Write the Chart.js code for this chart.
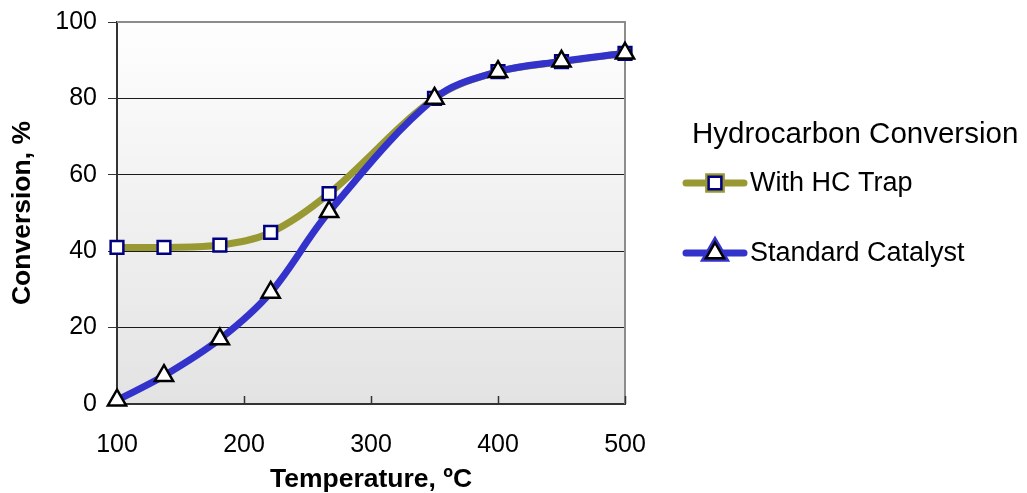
<!DOCTYPE html>
<html>
<head>
<meta charset="utf-8">
<script src="https://cdn.jsdelivr.net/npm/chart.js@4"></script>
<style>
  html, body { margin: 0; padding: 0; background: #fff; }
  #wrap { width: 1027px; height: 493px; }
</style>
</head>
<body>
<div id="wrap"><canvas id="conv"></canvas></div>
<script>
// data
var temps = [100, 137, 181, 221, 267, 350, 400, 450, 500];
var hcTrap = [41.0, 41.0, 41.6, 44.9, 55.1, 80.0, 87.0, 89.6, 91.8];
var standard = [1.0, 7.4, 17.0, 29.2, 50.3, 80.0, 87.0, 89.7, 91.8];
var yTicks = [0, 20, 40, 60, 80, 100];
var xTicks = [100, 200, 300, 400, 500];
var legendTitle = 'Hydrocarbon Conversion';

var FONT = 'Arial, "Liberation Sans", sans-serif';

function pts(xs, ys) {
    return xs.map(function (x, i) { return {x: x, y: ys[i]}; });
}

// gray gradient behind the plot + frame + inward x ticks
var plotArea = {
    id: 'plotArea',
    beforeDraw: function (chart) {
        var a = chart.chartArea, ctx = chart.ctx;
        var g = ctx.createLinearGradient(0, a.top, 0, a.bottom);
        g.addColorStop(0, '#fefefe');
        g.addColorStop(1, '#e3e3e3');
        ctx.save();
        ctx.fillStyle = g;
        ctx.fillRect(a.left, a.top, a.right - a.left, a.bottom - a.top);
        ctx.restore();
    },
    beforeDatasetsDraw: function (chart) {
        var a = chart.chartArea, ctx = chart.ctx, xs = chart.scales.x;
        ctx.save();
        ctx.strokeStyle = '#8c8c8c';
        ctx.lineWidth = 2;
        ctx.beginPath();
        ctx.moveTo(a.left, a.top);
        ctx.lineTo(a.right, a.top);
        ctx.lineTo(a.right, a.bottom);
        ctx.stroke();
        ctx.strokeStyle = '#333';
        ctx.lineWidth = 1.5;
        xTicks.forEach(function (v) {
            var px = Math.round(xs.getPixelForValue(v)) + 0.5;
            ctx.beginPath();
            ctx.moveTo(px, a.bottom);
            ctx.lineTo(px, a.bottom - 8);
            ctx.stroke();
        });
        ctx.restore();
    }
};

// legend drawn to the right, like the spreadsheet one
var sideLegend = {
    id: 'sideLegend',
    afterDraw: function (chart) {
        var ctx = chart.ctx;
        ctx.save();
        ctx.fillStyle = '#000';
        ctx.textBaseline = 'alphabetic';
        ctx.font = '29.5px ' + FONT;
        ctx.fillText(legendTitle, 692, 143);
        var rows = [183, 253];
        chart.data.datasets.forEach(function (ds, i) {
            var y = rows[i];
            ctx.strokeStyle = ds.borderColor;
            ctx.lineWidth = 7;
            ctx.lineCap = 'round';
            ctx.beginPath();
            ctx.moveTo(686, y);
            ctx.lineTo(744, y);
            ctx.stroke();
            Chart.helpers.drawPoint(ctx, {
                pointStyle: ds.pointStyle,
                radius: ds.pointRadius,
                borderWidth: ds.pointBorderWidth,
                rotation: 0
            }, 715, y);
            ctx.fillStyle = ds.pointBackgroundColor;
            ctx.strokeStyle = ds.pointBorderColor;
            ctx.lineWidth = ds.pointBorderWidth;
            ctx.fill();
            ctx.stroke();
            ctx.fillStyle = '#000';
            ctx.font = '27px ' + FONT;
            ctx.textBaseline = 'middle';
            ctx.fillText(ds.label, 750, y + 1);
        });
        ctx.restore();
    }
};

var chart = new Chart(document.getElementById('conv').getContext('2d'), {
    type: 'line',
    data: {
        datasets: [
            {
                label: 'With HC Trap',
                data: pts(temps, hcTrap),
                borderColor: '#999933',
                borderWidth: 7,
                tension: 0.35,
                pointStyle: 'rect',
                pointRadius: 9,
                pointBorderWidth: 2.5,
                pointBorderColor: '#000080',
                pointBackgroundColor: '#ffffff',
                clip: false,
                order: 1
            },
            {
                label: 'Standard Catalyst',
                data: pts(temps, standard),
                borderColor: '#3333cc',
                borderWidth: 7,
                tension: 0.35,
                pointStyle: 'triangle',
                pointRadius: 10.5,
                pointBorderWidth: 2.5,
                pointBorderColor: '#000000',
                pointBackgroundColor: '#ffffff',
                clip: false,
                order: 0
            }
        ]
    },
    options: {
        responsive: true,
        maintainAspectRatio: false,
        animation: false,
        events: [],
        layout: { autoPadding: false, padding: { top: 22, right: 402, left: 0, bottom: 0 } },
        plugins: {
            legend: { display: false },
            tooltip: { enabled: false }
        },
        scales: {
            x: {
                type: 'linear',
                min: 100,
                max: 500,
                afterBuildTicks: function (s) { s.ticks = xTicks.map(function (v) { return {value: v}; }); },
                afterFit: function (s) { s.height = 89; s.paddingLeft = 0; s.paddingRight = 0; },
                grid: { drawOnChartArea: false, drawTicks: false },
                border: { color: '#333', width: 2 },
                ticks: { color: '#000', font: { family: FONT, size: 25 }, padding: 26, maxRotation: 0 },
                title: {
                    display: true,
                    text: 'Temperature, ºC',
                    color: '#000',
                    font: { family: FONT, size: 26.5, weight: 'bold' },
                    padding: { top: 0, bottom: -3 }
                }
            },
            y: {
                min: 0,
                max: 100,
                afterBuildTicks: function (s) { s.ticks = yTicks.map(function (v) { return {value: v}; }); },
                afterFit: function (s) { s.width = 117; s.paddingTop = 0; s.paddingBottom = 0; },
                grid: {
                    color: function (c) { return c.tick && c.tick.value === 100 ? 'rgba(0,0,0,0)' : '#1a1a1a'; },
                    tickColor: '#333',
                    tickLength: 9,
                    lineWidth: 1
                },
                border: { color: '#333', width: 2 },
                ticks: { color: '#000', font: { family: FONT, size: 25 }, padding: 11 },
                title: {
                    display: true,
                    text: 'Conversion, %',
                    color: '#000',
                    font: { family: FONT, size: 26.5, weight: 'bold' },
                    padding: { top: 7, bottom: 0 }
                }
            }
        }
    },
    plugins: [plotArea, sideLegend]
});
</script>
</body>
</html>
